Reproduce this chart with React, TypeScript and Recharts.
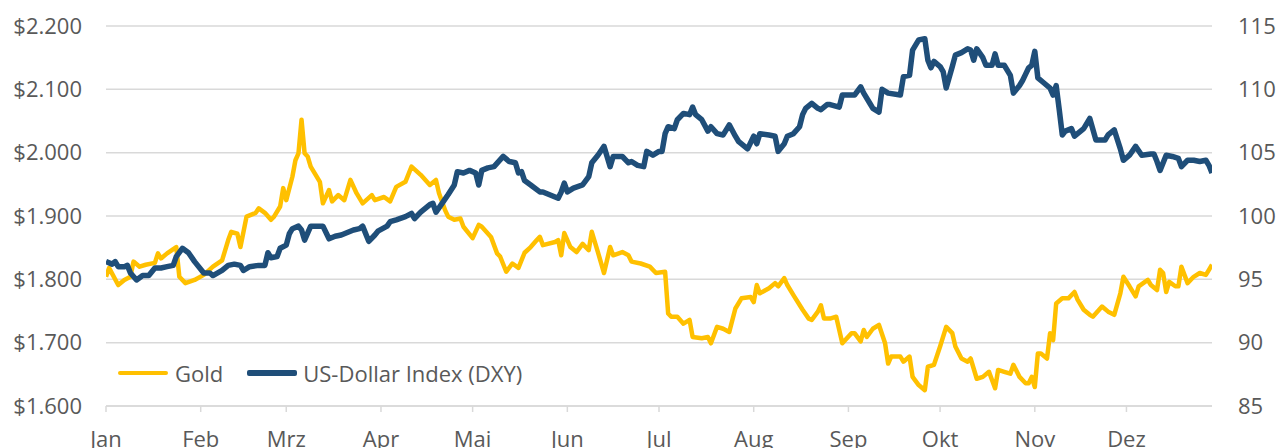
import { LineChart, Line, XAxis, YAxis, CartesianGrid, Legend } from "recharts";

// x = days since 3 Jan (Excel month ticks start from the first date)
const monthTicks = [0, 31, 59, 90, 120, 151, 181, 212, 243, 273, 304, 334];
const monthLabels = ["Jan", "Feb", "Mrz", "Apr", "Mai", "Jun", "Jul", "Aug", "Sep", "Okt", "Nov", "Dez"];
const goldTicks = [1600, 1700, 1800, 1900, 2000, 2100, 2200];
const dxyTicks = [85, 90, 95, 100, 105, 110, 115];

const goldDays = [
  0, 1, 4, 6, 8, 9, 11, 13, 16, 17, 18, 20, 23, 24, 26, 29, 32, 35, 38, 40, 41, 43, 44, 46, 49, 50, 52, 54, 55, 57,
  58, 59, 61, 62, 63, 64, 65, 66, 67, 70, 71, 73, 74, 76, 78, 80, 82, 84, 87, 88, 91, 93, 95, 98, 100, 103, 106, 108,
  109, 111, 112, 114, 116, 117, 120, 122, 123, 126, 128, 129, 131, 133, 135, 137, 139, 141, 142, 143, 147, 148, 149,
  150, 152, 154, 156, 158, 159, 161, 163, 165, 166, 169, 171, 172, 175, 178, 180, 183, 184, 185, 187, 189, 191, 192,
  195, 197, 198, 200, 202, 204, 206, 208, 211, 212, 213, 214, 217, 219, 220, 222, 223, 225, 228, 230, 231, 233, 234,
  235, 237, 239, 241, 244, 245, 247, 248, 249, 251, 253, 255, 256, 257, 260, 261, 263, 264, 266, 268, 269, 271, 273,
  275, 277, 278, 280, 282, 283, 285, 287, 289, 290, 291, 292, 294, 296, 297, 299, 301, 302, 303, 304, 305, 306, 308,
  309, 310, 311, 313, 315, 317, 318, 320, 322, 323, 326, 328, 330, 332, 333, 335, 337, 338, 341, 342, 344, 345, 346,
  347, 348, 350, 351, 352, 354, 356, 358, 360, 361, 362,
];
const goldPrices = [
  1804, 1818, 1791, 1799, 1804, 1828, 1820, 1823, 1826, 1841, 1833, 1841, 1851, 1804, 1794, 1799, 1807, 1820, 1830,
  1862, 1875, 1872, 1851, 1899, 1905, 1912, 1905, 1894, 1899, 1915, 1944, 1925, 1962, 1988, 1999, 2052, 1999, 1994,
  1978, 1954, 1920, 1941, 1923, 1933, 1925, 1957, 1936, 1920, 1933, 1925, 1930, 1923, 1946, 1954, 1978, 1965, 1949,
  1957, 1936, 1909, 1899, 1894, 1896, 1883, 1865, 1886, 1883, 1867, 1841, 1836, 1812, 1825, 1818, 1842, 1851, 1862,
  1867, 1854, 1859, 1862, 1838, 1873, 1851, 1843, 1856, 1846, 1875, 1843, 1810, 1851, 1838, 1843, 1838, 1828, 1825,
  1820, 1810, 1812, 1746, 1741, 1741, 1730, 1736, 1709, 1707, 1709, 1699, 1725, 1722, 1717, 1754, 1770, 1772, 1764,
  1791, 1778, 1786, 1794, 1789, 1802, 1791, 1775, 1752, 1738, 1736, 1749, 1759, 1738, 1738, 1741, 1699, 1715, 1715,
  1702, 1720, 1709, 1722, 1728, 1699, 1667, 1678, 1678, 1670, 1678, 1646, 1633, 1625, 1662, 1665, 1694, 1725, 1715,
  1694, 1675, 1670, 1675, 1643, 1646, 1654, 1641, 1628, 1657, 1654, 1651, 1665, 1646, 1636, 1636, 1646, 1630, 1683,
  1683, 1675, 1715, 1704, 1762, 1770, 1770, 1780, 1768, 1752, 1744, 1741, 1757, 1749, 1744, 1778, 1804, 1789, 1773,
  1789, 1799, 1791, 1783, 1815, 1810, 1780, 1796, 1789, 1789, 1820, 1794, 1804, 1810, 1807, 1815, 1823,
];

const dxyDays = [
  0, 2, 3, 4, 6, 7, 8, 10, 12, 14, 16, 18, 20, 22, 23, 25, 27, 29, 32, 34, 35, 38, 40, 42, 44, 45, 47, 50, 52, 53, 54,
  56, 57, 59, 60, 61, 63, 64, 65, 67, 69, 71, 73, 75, 77, 78, 81, 83, 84, 86, 88, 89, 92, 93, 95, 98, 100, 101, 103,
  106, 107, 108, 110, 112, 114, 115, 117, 119, 121, 122, 123, 125, 127, 130, 132, 134, 135, 136, 137, 139, 142, 143,
  145, 148, 149, 150, 151, 153, 156, 158, 159, 161, 163, 164, 165, 166, 169, 171, 172, 174, 176, 177, 179, 181, 182,
  183, 184, 186, 187, 189, 191, 192, 193, 195, 197, 198, 200, 202, 204, 206, 207, 210, 212, 213, 214, 217, 219, 220,
  222, 223, 225, 227, 228, 229, 231, 233, 234, 236, 237, 240, 241, 245, 247, 248, 250, 251, 253, 254, 256, 260, 261,
  263, 264, 266, 268, 269, 270, 271, 273, 274, 275, 277, 278, 280, 282, 283, 284, 285, 287, 288, 290, 291, 292, 294,
  296, 297, 299, 300, 301, 302, 303, 304, 305, 307, 309, 310, 311, 312, 313, 314, 316, 317, 320, 322, 324, 327, 328,
  330, 332, 333, 335, 337, 339, 342, 343, 344, 345, 347, 349, 351, 352, 354, 356, 358, 360, 361, 362,
];
const dxyValues = [
  96.4, 96.2, 96.4, 96.0, 96.0, 96.1, 95.5, 94.95, 95.3, 95.3, 95.9, 95.9, 96.0, 96.1, 96.8, 97.45, 97.1, 96.4, 95.5,
  95.5, 95.3, 95.7, 96.1, 96.2, 96.1, 95.7, 96.0, 96.1, 96.1, 97.1, 96.7, 96.8, 97.45, 97.7, 98.6, 99.0, 99.2, 98.9,
  98.1, 99.2, 99.2, 99.2, 98.2, 98.4, 98.5, 98.6, 98.9, 99.0, 99.2, 98.0, 98.5, 98.8, 99.2, 99.55, 99.7, 99.95, 100.2,
  99.8, 100.3, 100.9, 101.0, 100.3, 101.0, 101.7, 102.45, 103.5, 103.4, 103.6, 103.4, 102.45, 103.6, 103.8, 103.9,
  104.7, 104.3, 104.2, 103.4, 103.5, 102.8, 102.45, 101.9, 101.9, 101.7, 101.4, 101.9, 102.6, 101.9, 102.2, 102.45,
  103.1, 104.2, 104.8, 105.5, 104.7, 103.9, 104.7, 104.7, 104.2, 104.3, 104.0, 103.9, 105.1, 104.8, 105.1, 105.1,
  106.5, 107.05, 106.9, 107.6, 108.1, 108.0, 108.6, 108.0, 107.6, 106.7, 107.05, 106.5, 106.4, 107.2, 106.3, 105.9,
  105.3, 106.3, 105.7, 106.5, 106.4, 106.3, 105.1, 105.7, 106.3, 106.5, 107.05, 108.0, 108.5, 108.9, 108.5, 108.4,
  108.8, 108.8, 108.6, 109.55, 109.55, 110.2, 109.7, 108.9, 108.5, 108.2, 110.0, 109.7, 109.55, 111.0, 111.1, 113.1,
  113.9, 114.0, 112.3, 111.7, 112.2, 111.8, 111.4, 110.1, 111.8, 112.7, 112.9, 113.2, 113.1, 112.3, 113.2, 112.5,
  111.9, 111.9, 112.8, 111.9, 111.9, 111.1, 109.7, 110.3, 110.7, 111.2, 111.7, 111.9, 113.0, 110.9, 110.5, 110.1,
  109.55, 110.3, 108.4, 106.4, 106.7, 106.9, 106.3, 106.9, 107.7, 106.0, 106.0, 106.4, 106.8, 105.3, 104.4, 104.8,
  105.5, 104.8, 104.9, 104.9, 104.3, 103.6, 104.8, 104.7, 104.55, 103.9, 104.4, 104.4, 104.3, 104.4, 104.0, 103.4,
];

const goldData = goldDays.map((day, i) => ({ day, value: goldPrices[i] }));
const dxyData = dxyDays.map((day, i) => ({ day, value: dxyValues[i] }));

const GOLD = "#FFC000";
const BLUE = "#1F4E79";
const TEXT = "#595959";
const GRID = "#D9D9D9";
const FONT = "'Open Sans', sans-serif";

const fmtUsd = (v: number) => "$" + String(v).replace(/\B(?=(\d{3})+(?!\d))/g, ".");

function LegendBox() {
  return (
    <div style={{ display: "flex", alignItems: "center", fontFamily: FONT, fontSize: 22, color: TEXT, whiteSpace: "nowrap" }}>
      <span style={{ display: "inline-block", width: 50, height: 4.5, background: GOLD, borderRadius: 2 }} />
      <span style={{ marginLeft: 7 }}>Gold</span>
      <span style={{ display: "inline-block", width: 50, height: 5.5, background: BLUE, borderRadius: 2, marginLeft: 24 }} />
      <span style={{ marginLeft: 6 }}>US-Dollar Index (DXY)</span>
    </div>
  );
}

export default function App() {
  return (
    <div style={{ width: 1280, height: 440, overflow: "hidden" }}>
      <LineChart width={1280} height={460} margin={{ top: 18, right: 0, bottom: 0, left: 0 }}>
        <CartesianGrid yAxisId="gold" vertical={false} stroke={GRID} strokeWidth={1.5} />
        <XAxis
          dataKey="day"
          type="number"
          domain={[0, 362]}
          ticks={monthTicks}
          tickFormatter={(v: number) => monthLabels[monthTicks.indexOf(v)]}
          height={62}
          axisLine={{ stroke: GRID, strokeWidth: 1.5 }}
          tickLine={{ stroke: GRID, strokeWidth: 1.5 }}
          tickSize={6}
          tickMargin={19}
          tick={{ fill: TEXT, fontSize: 22, fontFamily: FONT }}
          interval={0}
          allowDataOverflow
        />
        <YAxis
          yAxisId="gold"
          domain={[1600, 2200]}
          ticks={goldTicks}
          tickFormatter={fmtUsd}
          width={98}
          axisLine={false}
          tickLine={false}
          tickSize={0}
          tickMargin={24}
          tick={{ fill: TEXT, fontSize: 22, fontFamily: FONT }}
          interval={0}
        />
        <YAxis
          yAxisId="dxy"
          orientation="right"
          domain={[85, 115]}
          ticks={dxyTicks}
          width={76}
          axisLine={false}
          tickLine={false}
          tickSize={0}
          tickMargin={26}
          tick={{ fill: TEXT, fontSize: 22, fontFamily: FONT }}
          interval={0}
        />
        <Legend
          layout="horizontal"
          align="center"
          verticalAlign="middle"
          content={() => <LegendBox />}
          wrapperStyle={{ left: 110, top: 350, width: "auto" }}
        />
        <Line
          yAxisId="gold"
          data={goldData}
          dataKey="value"
          name="Gold"
          type="linear"
          stroke={GOLD}
          strokeWidth={4.5}
          strokeLinejoin="round"
          dot={false}
          activeDot={false}
          isAnimationActive={false}
        />
        <Line
          yAxisId="dxy"
          data={dxyData}
          dataKey="value"
          name="US-Dollar Index (DXY)"
          type="linear"
          stroke={BLUE}
          strokeWidth={5.5}
          strokeLinejoin="round"
          dot={false}
          activeDot={false}
          isAnimationActive={false}
        />
      </LineChart>
    </div>
  );
}
